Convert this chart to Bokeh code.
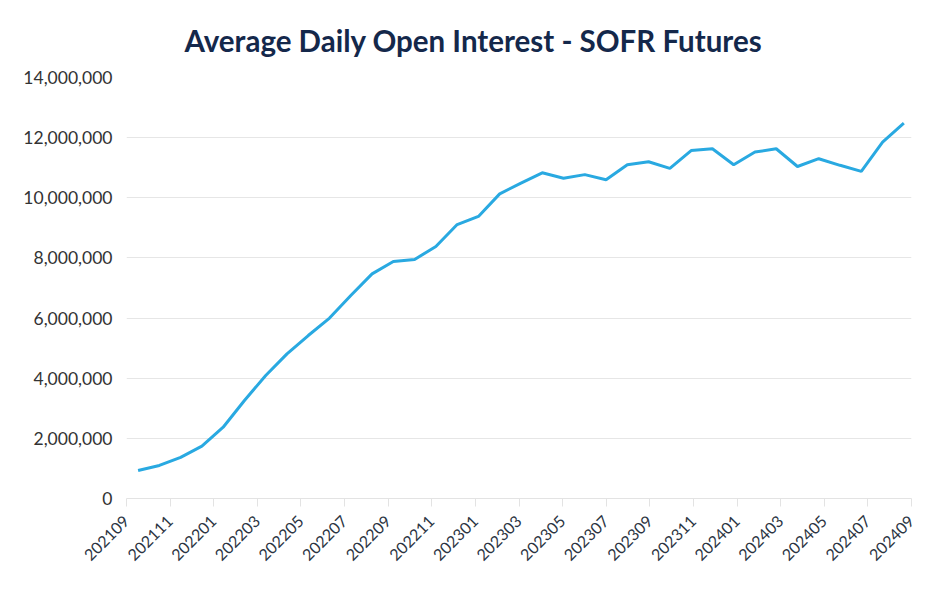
import numpy as np
from math import pi
from bokeh.plotting import figure
from bokeh.models import Range1d, FixedTicker, NumeralTickFormatter, ColumnDataSource
from bokeh.embed import file_html
from bokeh.resources import INLINE

# ---- data ----
months = [
    "202109", "202110", "202111", "202112", "202201", "202202", "202203", "202204",
    "202205", "202206", "202207", "202208", "202209", "202210", "202211", "202212",
    "202301", "202302", "202303", "202304", "202305", "202306", "202307", "202308",
    "202309", "202310", "202311", "202312", "202401", "202402", "202403", "202404",
    "202405", "202406", "202407", "202408", "202409",
]
open_interest = [
    930000, 1100000, 1370000, 1740000, 2370000, 3260000, 4090000, 4810000,
    5420000, 6000000, 6750000, 7470000, 7880000, 7950000, 8380000, 9110000,
    9380000, 10130000, 10490000, 10830000, 10650000, 10770000, 10600000, 11100000,
    11200000, 10980000, 11570000, 11630000, 11100000, 11520000, 11630000, 11040000,
    11300000, 11080000, 10880000, 11850000, 12480000,
]
tick_labels = months[::2]
y_ticks = [0, 2000000, 4000000, 6000000, 8000000, 10000000, 12000000, 14000000]

# ---- chart ----
x_idx = list(range(len(months)))
src = ColumnDataSource(dict(x=x_idx, y=open_interest, month=months))

x_start, x_end = -0.545, 36.36
tick_pos = [float(v) for v in np.linspace(x_start, x_end, len(tick_labels))]

p = figure(width=932, height=592, output_backend="svg", toolbar_location=None,
           x_range=Range1d(x_start, x_end), y_range=Range1d(0, 14000000),
           min_border_left=126, min_border_right=21, min_border_top=77,
           min_border_bottom=94)

p.title.text = "Average Daily Open Interest - SOFR Futures"
p.title.align = "left"
p.title.text_font = "Lato"
p.title.text_font_size = "29.5px"
p.title.text_font_style = "bold"
p.title.text_color = "#14284b"
p.title.offset = 58
p.title.standoff = 40

p.line("x", "y", source=src, line_color="#29a9e1", line_width=3)

p.outline_line_color = None
p.background_fill_color = "white"
p.border_fill_color = "white"

# x axis
p.xaxis.ticker = FixedTicker(ticks=tick_pos)
p.xaxis.major_label_overrides = {t: l for t, l in zip(tick_pos, tick_labels)}
p.xaxis.major_label_orientation = pi / 4
p.xaxis.major_label_text_font = "Lato"
p.xaxis.major_label_text_font_size = "16px"
p.xaxis.major_label_text_color = "#2b3442"
p.xaxis.axis_line_color = "#e3e3e3"
p.xaxis.major_tick_line_color = "#e3e3e3"
p.xaxis.major_tick_out = 8
p.xaxis.major_tick_in = 0
p.xaxis.minor_tick_line_color = None
p.xaxis.major_label_standoff = 12
p.xgrid.grid_line_color = None

# y axis
p.yaxis.ticker = FixedTicker(ticks=y_ticks)
p.yaxis.formatter = NumeralTickFormatter(format="0,0")
p.yaxis.major_label_text_font = "Lato"
p.yaxis.major_label_text_font_size = "17.5px"
p.yaxis.major_label_text_color = "#333333"
p.yaxis.axis_line_color = None
p.yaxis.major_tick_line_color = None
p.yaxis.minor_tick_line_color = None
p.yaxis.major_label_standoff = 8
p.ygrid.grid_line_color = "#e6e6e6"
p.ygrid.grid_line_width = 1

open("out.html", "w").write(file_html(p, INLINE))
